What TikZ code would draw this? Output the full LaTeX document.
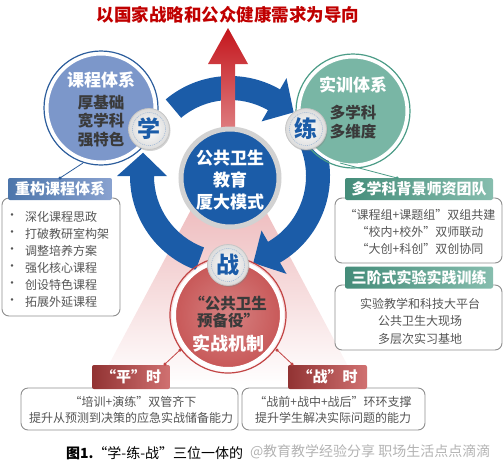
\documentclass[tikz,border=0pt]{standalone}
\usepackage{fontspec}
\setmainfont{Noto Sans CJK SC}
\usetikzlibrary{positioning,shadows}
\definecolor{titleRed}{HTML}{C00000}
\definecolor{arrowRed}{HTML}{C4161C}
\definecolor{coneRed}{HTML}{D9686C}
\definecolor{ringBlue}{HTML}{1B5CA8}
\definecolor{courseBlue}{HTML}{7C97CA}
\definecolor{courseLine}{HTML}{2C5D9C}
\definecolor{trainGreen}{HTML}{79B6A5}
\definecolor{trainLine}{HTML}{4C9C87}
\definecolor{warRed}{HTML}{C85858}
\definecolor{warLine}{HTML}{C24444}
\definecolor{textDark}{HTML}{3A3A3A}
\definecolor{textGray}{HTML}{555555}
\definecolor{boxGray}{HTML}{8E8E8E}
% one blue arc of the ring: start angle, head base angle, tip angle
\newcommand\ringarrow[3]{%
  \fill[ringBlue] (#1:76) arc[start angle=#1,end angle=#2,radius=76]
    -- (#2:63) -- (#3:90) -- (#2:113) -- (#2:100)
    arc[start angle=#2,end angle=#1,radius=100] -- cycle;}

\begin{document}
\begin{tikzpicture}[
    x=1pt,y=-1pt,
    every node/.style={inner sep=0pt,outer sep=0pt},
    goal/.style={font=\fontsize{17.5}{20}\selectfont\bfseries,text=titleRed},
    circhead/.style={font=\fontsize{17}{20}\selectfont\bfseries,text=white},
    circbody/.style={font=\fontsize{15.5}{18.5}\selectfont\bfseries,text=textDark,align=center},
    bigdisc/.style={circle,minimum size=108pt,draw=white,line width=3pt},
    badge/.style={circle,minimum size=41pt,inner color=white,outer color=gray!28,draw=gray!45,line width=0.8pt,
      font=\fontsize{23}{24}\selectfont\bfseries,text=ringBlue,
      drop shadow={opacity=0.35,shadow xshift=1pt,shadow yshift=-1.5pt}},
    tab/.style={rounded corners=2pt,minimum height=22pt,font=\fontsize{15}{17}\selectfont\bfseries,text=white},
    listbox/.style={draw=boxGray,line width=0.9pt,rounded corners=7pt,fill=white},
    item/.style={font=\fontsize{12}{14}\selectfont,text=textGray},
    link/.style={line width=0.8pt},
    knot/.style={circle,minimum size=3.5pt}
  ]
  \useasboundingbox (0,0) rectangle (503,469);
  %% Goal: cone and upward arrow
  \shade[top color=coneRed!60,bottom color=white] (228,140) -- (98,385) -- (358,385) -- cycle;
  \node[goal] (goal) at (228,15) {以国家战略和公众健康需求为导向};
  %% Ring of arrows
  \begin{scope}[shift={(230,176)},y=1pt]
    \ringarrow{130}{60}{45}
    \ringarrow{25}{-60}{-75}
    \ringarrow{250}{180}{165}
  \end{scope}
  \shade[top color=arrowRed,bottom color=arrowRed!55]
    (221,132) -- (221,64) -- (208,64) -- (228,28) -- (248,64) -- (235,64) -- (235,132) -- cycle;
  %% Three systems
  \node[bigdisc,fill=courseBlue] (course) at (101,108) {};
  \draw[courseLine,line width=1.2pt] (course.center) circle[radius=57];
  \node[circhead] (courseT) at (101,80) {课程体系};
  \node[circbody] (courseB) at (101,121) {厚基础\\宽学科\\强特色};
  \node[bigdisc,fill=trainGreen] (train) at (353,111) {};
  \draw[trainLine,line width=1.2pt] (train.center) circle[radius=57];
  \node[circhead] (trainT) at (353,85) {实训体系};
  \node[circbody] (trainB) at (353,122) {多学科\\多维度};
  \node[circle,minimum size=98pt,fill=ringBlue,draw=gray!35,line width=5pt,
    drop shadow={opacity=0.3,shadow xshift=1pt,shadow yshift=-1.5pt}] (hub) at (230,178) {};
  \node[circhead,align=center,font=\fontsize{17}{22}\selectfont\bfseries] (hubT) at (230,180) {公共卫生\\教育\\厦大模式};
  \node[bigdisc,inner color=warRed!75,outer color=warRed,draw=white,line width=4pt] (war) at (228,315) {};
  \draw[warLine,line width=1.2pt] (war.center) circle[radius=58];
  \node[circbody,font=\fontsize{15.5}{17}\selectfont\bfseries] (warB) at (228,312) {“公共卫生\\预备役”};
  \node[circhead,font=\fontsize{18}{20}\selectfont\bfseries] (warT) at (228,344) {实战机制};
  %% Badges
  \node[badge] (xue) at (149,129) {学};
  \node[badge] (lian) at (306,129) {练};
  \node[badge] (zhan) at (228,265) {战};
  \foreach \b in {xue,lian,zhan}
    \draw[ringBlue!55,dash pattern=on 1pt off 1pt] (\b.center) circle[radius=16.5];
  %% Course box
  \node[listbox,minimum width=118pt,minimum height=118pt] (courseList) at (61,257) {};
  \node[tab,minimum width=104pt,left color=courseLine!85,right color=courseBlue!90] (courseHead) at (60,189) {重构课程体系};
  \foreach \t [count=\i] in {深化课程思政,打破教研室构架,调整培养方案,强化核心课程,创设特色课程,拓展外延课程}{
    \node[item] (bul-\i) at (12,200+17*\i) {•};
    \node[item,anchor=west] (course-\i) at (25,200+17*\i) {\t};
  }
  \coordinate (courseFoot) at (83,163);
  \draw[link,courseLine] (courseFoot) -- (courseHead.north);
  \node[knot,fill=courseLine] at (courseHead.north) {};
  %% Training boxes
  \node[listbox,minimum width=167pt,minimum height=65pt] (teamList) at (418.5,230.5) {};
  \node[tab,minimum width=148pt,left color=trainLine!90!black,right color=trainGreen!90] (teamHead) at (419,189) {多学科背景师资团队};
  \foreach \t [count=\i] in {“课程组+课题组”双组共建,“校内+校外”双师联动,“大创+科创”双创协同}
    \node[item] (team-\i) at (420,198+17*\i) {\t};
  \coordinate (trainFoot) at (340,163);
  \coordinate (teamTop) at (397,178);
  \draw[link,trainLine] (trainFoot) -- (teamTop);
  \node[knot,fill=trainLine] at (teamTop) {};
  \node[listbox,minimum width=167pt,minimum height=65pt] (labList) at (418.5,317.5) {};
  \node[tab,minimum width=148pt,left color=trainLine!90!black,right color=trainGreen!90] (labHead) at (419,277.5) {三阶式实验实践训练};
  \foreach \t [count=\i] in {实验教学和科技大平台,公共卫生大现场,多层次实习基地}
    \node[item] (lab-\i) at (420,286+17.5*\i) {\t};
  %% Practice boxes
  \node[listbox,minimum width=217pt,minimum height=42pt] (peaceList) at (129.5,409) {};
  \node[tab,minimum width=78pt,minimum height=24pt,left color=warLine!75!black,right color=warRed!85] (peaceHead) at (131,377) {“平”时};
  \node[item] (peace-1) at (133,402) {“培训+演练”双管齐下};
  \node[item] (peace-2) at (131,418) {提升从预测到决策的应急实战储备能力};
  \node[listbox,minimum width=183pt,minimum height=42pt] (battleList) at (333.5,409) {};
  \node[tab,minimum width=79pt,minimum height=24pt,left color=warLine!75!black,right color=warRed!85] (battleHead) at (327.5,377) {“战”时};
  \node[item] (battle-1) at (333,402) {“战前+战中+战后”环环支撑};
  \node[item] (battle-2) at (333,418) {提升学生解决实际问题的能力};
  \coordinate (warLeft) at (180,350);
  \coordinate (warRight) at (277,350);
  \coordinate (peaceTop) at (165,364);
  \coordinate (battleTop) at (292,364);
  \draw[link,warLine] (warLeft) -- (peaceTop);
  \draw[link,warLine] (warRight) -- (battleTop);
  \foreach \p in {warLeft,warRight,peaceTop,battleTop}
    \node[knot,fill=warLine] at (\p) {};
  %% Caption
  \node[anchor=west,font=\fontsize{14}{16}\selectfont] (caption) at (66,453) {\textbf{图1.}“学-练-战”三位一体的};
  \node[anchor=west,font=\fontsize{14}{16}\selectfont,text=gray!70,opacity=0.85] (mark) at (250,452) {@教育教学经验分享\ 职场生活点点滴滴};
\end{tikzpicture}
\end{document}
